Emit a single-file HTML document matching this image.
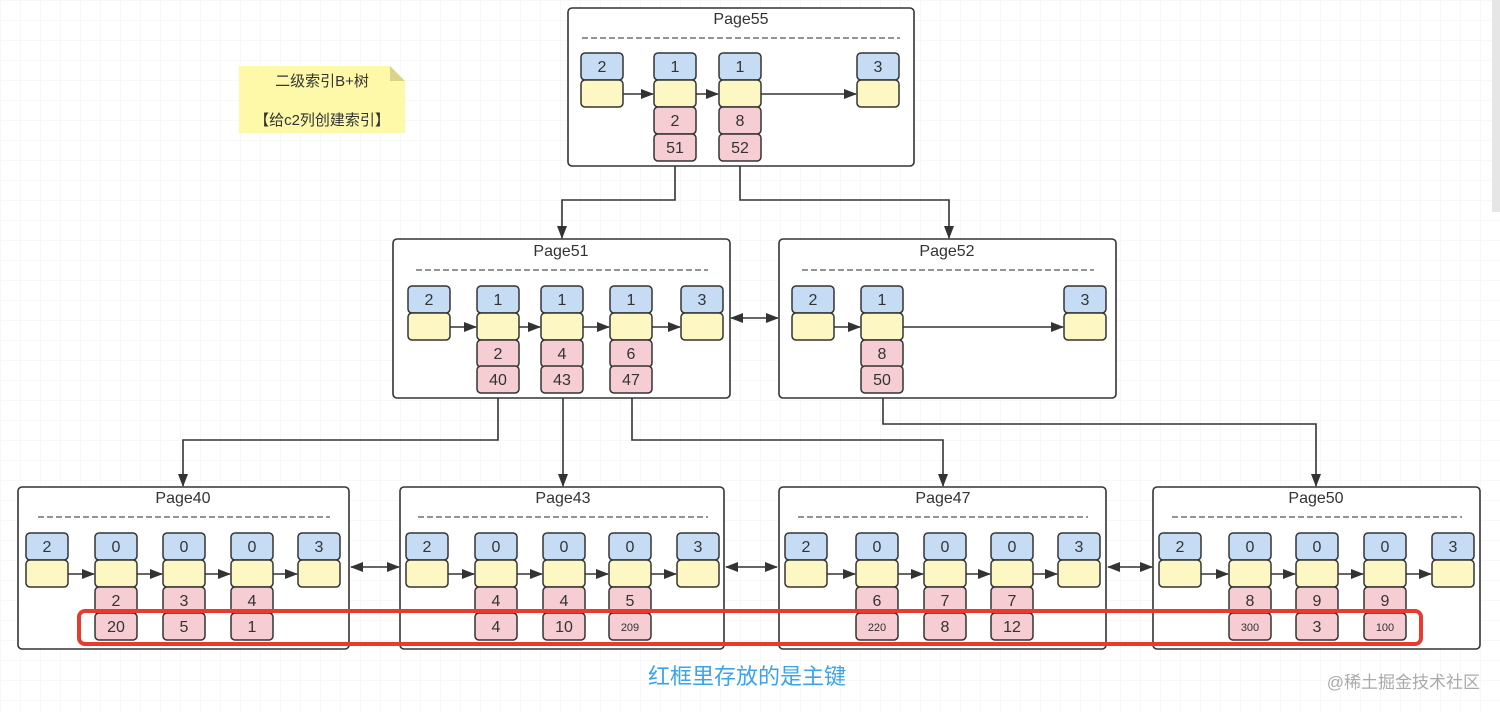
<!DOCTYPE html>
<html><head><meta charset="utf-8"><style>
html,body{margin:0;padding:0;background:#fff}
svg{display:block}
text{font-family:"Liberation Sans","Noto Sans CJK SC",sans-serif;fill:#333}
.b{fill:#c6dcf4;stroke:#333;stroke-width:1.5}
.y{fill:#fdf7c4;stroke:#333;stroke-width:1.5}
.p{fill:#f5cdd3;stroke:#333;stroke-width:1.5}
.pg{fill:#fff;stroke:#333;stroke-width:1.6}
.ln{fill:none;stroke:#333;stroke-width:1.6}
.d{stroke:#555;stroke-width:1.2;stroke-dasharray:6 3}
.t{font-size:16px;text-anchor:middle}
.s{font-size:11px;text-anchor:middle}
</style></head><body>
<svg width="1500" height="712" viewBox="0 0 1500 712" xmlns="http://www.w3.org/2000/svg">
<defs>
<pattern id="grid" width="20" height="20" patternUnits="userSpaceOnUse"><path d="M20 0H0V20" fill="none" stroke="#f0f0f0" stroke-width="1"/></pattern>
<marker id="a" markerWidth="13" markerHeight="10" refX="12" refY="5" orient="auto" markerUnits="userSpaceOnUse"><path d="M0 0L13 5L0 10z" fill="#333"/></marker>
<marker id="as" markerWidth="13" markerHeight="10" refX="1" refY="5" orient="auto" markerUnits="userSpaceOnUse"><path d="M13 0L0 5L13 10z" fill="#333"/></marker>
</defs>
<rect width="1500" height="712" fill="url(#grid)"/>
<rect x="1492" y="0" width="8" height="212" fill="#e6e6e6"/>

<!-- sticky note -->
<path d="M239 66H390L405 81V133H239Z" fill="#fdf9a8"/>
<path d="M390 66V81H405Z" fill="#d9d48a"/>
<text x="322" y="86" style="font-size:15px;text-anchor:middle">二级索引B+树</text>
<text x="322" y="125" style="font-size:15px;text-anchor:middle">【给c2列创建索引】</text>

<!-- connectors -->
<path class="ln" d="M675 160V200H562V238" marker-end="url(#a)"/>
<path class="ln" d="M740 160V200H949V238" marker-end="url(#a)"/>
<path class="ln" d="M498 393V440H183V486" marker-end="url(#a)"/>
<path class="ln" d="M563 393V486" marker-end="url(#a)"/>
<path class="ln" d="M632 393V440H943V486" marker-end="url(#a)"/>
<path class="ln" d="M883 393V424H1316V486" marker-end="url(#a)"/>
<path class="ln" d="M731 318H778" marker-end="url(#a)" marker-start="url(#as)"/>
<path class="ln" d="M351 567H399" marker-end="url(#a)" marker-start="url(#as)"/>
<path class="ln" d="M726 567H777" marker-end="url(#a)" marker-start="url(#as)"/>
<path class="ln" d="M1108 567H1152" marker-end="url(#a)" marker-start="url(#as)"/>

<!-- Page55 -->
<rect class="pg" x="568" y="8" width="346" height="158" rx="4"/>
<text class="t" x="741" y="24">Page55</text>
<line class="d" x1="582" y1="38" x2="900" y2="38"/>
<path class="ln" d="M623 94H653" marker-end="url(#a)"/>
<path class="ln" d="M696 94H718" marker-end="url(#a)"/>
<path class="ln" d="M761 94H856" marker-end="url(#a)"/>
<g transform="translate(581,53)"><rect class="b" width="42" height="27" rx="4"/><text class="t" x="21" y="19">2</text><rect class="y" y="27" width="42" height="27" rx="4"/></g>
<g transform="translate(654,53)"><rect class="b" width="42" height="27" rx="4"/><text class="t" x="21" y="19">1</text><rect class="y" y="27" width="42" height="27" rx="4"/><rect class="p" y="54" width="42" height="27" rx="4"/><text class="t" x="21" y="73">2</text><rect class="p" y="81" width="42" height="27" rx="4"/><text class="t" x="21" y="100">51</text></g>
<g transform="translate(719,53)"><rect class="b" width="42" height="27" rx="4"/><text class="t" x="21" y="19">1</text><rect class="y" y="27" width="42" height="27" rx="4"/><rect class="p" y="54" width="42" height="27" rx="4"/><text class="t" x="21" y="73">8</text><rect class="p" y="81" width="42" height="27" rx="4"/><text class="t" x="21" y="100">52</text></g>
<g transform="translate(857,53)"><rect class="b" width="42" height="27" rx="4"/><text class="t" x="21" y="19">3</text><rect class="y" y="27" width="42" height="27" rx="4"/></g>

<!-- Page51 -->
<rect class="pg" x="393" y="239" width="337" height="159" rx="4"/>
<text class="t" x="561" y="256">Page51</text>
<line class="d" x1="416" y1="270" x2="708" y2="270"/>
<path class="ln" d="M450 327H476" marker-end="url(#a)"/>
<path class="ln" d="M519 327H540" marker-end="url(#a)"/>
<path class="ln" d="M583 327H609" marker-end="url(#a)"/>
<path class="ln" d="M652 327H680" marker-end="url(#a)"/>
<g transform="translate(408,286)"><rect class="b" width="42" height="27" rx="4"/><text class="t" x="21" y="19">2</text><rect class="y" y="27" width="42" height="27" rx="4"/></g>
<g transform="translate(477,286)"><rect class="b" width="42" height="27" rx="4"/><text class="t" x="21" y="19">1</text><rect class="y" y="27" width="42" height="27" rx="4"/><rect class="p" y="54" width="42" height="27" rx="4"/><text class="t" x="21" y="73">2</text><rect class="p" y="80" width="42" height="27" rx="4"/><text class="t" x="21" y="99">40</text></g>
<g transform="translate(541,286)"><rect class="b" width="42" height="27" rx="4"/><text class="t" x="21" y="19">1</text><rect class="y" y="27" width="42" height="27" rx="4"/><rect class="p" y="54" width="42" height="27" rx="4"/><text class="t" x="21" y="73">4</text><rect class="p" y="80" width="42" height="27" rx="4"/><text class="t" x="21" y="99">43</text></g>
<g transform="translate(610,286)"><rect class="b" width="42" height="27" rx="4"/><text class="t" x="21" y="19">1</text><rect class="y" y="27" width="42" height="27" rx="4"/><rect class="p" y="54" width="42" height="27" rx="4"/><text class="t" x="21" y="73">6</text><rect class="p" y="80" width="42" height="27" rx="4"/><text class="t" x="21" y="99">47</text></g>
<g transform="translate(681,286)"><rect class="b" width="42" height="27" rx="4"/><text class="t" x="21" y="19">3</text><rect class="y" y="27" width="42" height="27" rx="4"/></g>

<!-- Page52 -->
<rect class="pg" x="779" y="239" width="337" height="159" rx="4"/>
<text class="t" x="947" y="256">Page52</text>
<line class="d" x1="802" y1="270" x2="1094" y2="270"/>
<path class="ln" d="M834 327H860" marker-end="url(#a)"/>
<path class="ln" d="M903 327H1063" marker-end="url(#a)"/>
<g transform="translate(792,286)"><rect class="b" width="42" height="27" rx="4"/><text class="t" x="21" y="19">2</text><rect class="y" y="27" width="42" height="27" rx="4"/></g>
<g transform="translate(861,286)"><rect class="b" width="42" height="27" rx="4"/><text class="t" x="21" y="19">1</text><rect class="y" y="27" width="42" height="27" rx="4"/><rect class="p" y="54" width="42" height="27" rx="4"/><text class="t" x="21" y="73">8</text><rect class="p" y="80" width="42" height="27" rx="4"/><text class="t" x="21" y="99">50</text></g>
<g transform="translate(1064,286)"><rect class="b" width="42" height="27" rx="4"/><text class="t" x="21" y="19">3</text><rect class="y" y="27" width="42" height="27" rx="4"/></g>

<!-- Page40 -->
<rect class="pg" x="18" y="487" width="331" height="162" rx="4"/>
<text class="t" x="183" y="503">Page40</text>
<line class="d" x1="38" y1="517" x2="330" y2="517"/>
<path class="ln" d="M68 574H94" marker-end="url(#a)"/>
<path class="ln" d="M137 574H162" marker-end="url(#a)"/>
<path class="ln" d="M205 574H230" marker-end="url(#a)"/>
<path class="ln" d="M273 574H297" marker-end="url(#a)"/>
<g transform="translate(26,533)"><rect class="b" width="42" height="27" rx="4"/><text class="t" x="21" y="19">2</text><rect class="y" y="27" width="42" height="27" rx="4"/></g>
<g transform="translate(95,533)"><rect class="b" width="42" height="27" rx="4"/><text class="t" x="21" y="19">0</text><rect class="y" y="27" width="42" height="27" rx="4"/><rect class="p" y="54" width="42" height="27" rx="4"/><text class="t" x="21" y="73">2</text><rect class="p" y="80" width="42" height="27" rx="4"/><text class="t" x="21" y="99">20</text></g>
<g transform="translate(163,533)"><rect class="b" width="42" height="27" rx="4"/><text class="t" x="21" y="19">0</text><rect class="y" y="27" width="42" height="27" rx="4"/><rect class="p" y="54" width="42" height="27" rx="4"/><text class="t" x="21" y="73">3</text><rect class="p" y="80" width="42" height="27" rx="4"/><text class="t" x="21" y="99">5</text></g>
<g transform="translate(231,533)"><rect class="b" width="42" height="27" rx="4"/><text class="t" x="21" y="19">0</text><rect class="y" y="27" width="42" height="27" rx="4"/><rect class="p" y="54" width="42" height="27" rx="4"/><text class="t" x="21" y="73">4</text><rect class="p" y="80" width="42" height="27" rx="4"/><text class="t" x="21" y="99">1</text></g>
<g transform="translate(298,533)"><rect class="b" width="42" height="27" rx="4"/><text class="t" x="21" y="19">3</text><rect class="y" y="27" width="42" height="27" rx="4"/></g>

<!-- Page43 -->
<rect class="pg" x="400" y="487" width="324" height="162" rx="4"/>
<text class="t" x="563" y="503">Page43</text>
<line class="d" x1="418" y1="517" x2="708" y2="517"/>
<path class="ln" d="M448 574H474" marker-end="url(#a)"/>
<path class="ln" d="M517 574H542" marker-end="url(#a)"/>
<path class="ln" d="M585 574H608" marker-end="url(#a)"/>
<path class="ln" d="M651 574H676" marker-end="url(#a)"/>
<g transform="translate(406,533)"><rect class="b" width="42" height="27" rx="4"/><text class="t" x="21" y="19">2</text><rect class="y" y="27" width="42" height="27" rx="4"/></g>
<g transform="translate(475,533)"><rect class="b" width="42" height="27" rx="4"/><text class="t" x="21" y="19">0</text><rect class="y" y="27" width="42" height="27" rx="4"/><rect class="p" y="54" width="42" height="27" rx="4"/><text class="t" x="21" y="73">4</text><rect class="p" y="80" width="42" height="27" rx="4"/><text class="t" x="21" y="99">4</text></g>
<g transform="translate(543,533)"><rect class="b" width="42" height="27" rx="4"/><text class="t" x="21" y="19">0</text><rect class="y" y="27" width="42" height="27" rx="4"/><rect class="p" y="54" width="42" height="27" rx="4"/><text class="t" x="21" y="73">4</text><rect class="p" y="80" width="42" height="27" rx="4"/><text class="t" x="21" y="99">10</text></g>
<g transform="translate(609,533)"><rect class="b" width="42" height="27" rx="4"/><text class="t" x="21" y="19">0</text><rect class="y" y="27" width="42" height="27" rx="4"/><rect class="p" y="54" width="42" height="27" rx="4"/><text class="t" x="21" y="73">5</text><rect class="p" y="80" width="42" height="27" rx="4"/><text class="s" x="21" y="98">209</text></g>
<g transform="translate(677,533)"><rect class="b" width="42" height="27" rx="4"/><text class="t" x="21" y="19">3</text><rect class="y" y="27" width="42" height="27" rx="4"/></g>

<!-- Page47 -->
<rect class="pg" x="779" y="487" width="327" height="162" rx="4"/>
<text class="t" x="943" y="503">Page47</text>
<line class="d" x1="798" y1="517" x2="1088" y2="517"/>
<path class="ln" d="M827 574H855" marker-end="url(#a)"/>
<path class="ln" d="M898 574H923" marker-end="url(#a)"/>
<path class="ln" d="M966 574H990" marker-end="url(#a)"/>
<path class="ln" d="M1033 574H1057" marker-end="url(#a)"/>
<g transform="translate(785,533)"><rect class="b" width="42" height="27" rx="4"/><text class="t" x="21" y="19">2</text><rect class="y" y="27" width="42" height="27" rx="4"/></g>
<g transform="translate(856,533)"><rect class="b" width="42" height="27" rx="4"/><text class="t" x="21" y="19">0</text><rect class="y" y="27" width="42" height="27" rx="4"/><rect class="p" y="54" width="42" height="27" rx="4"/><text class="t" x="21" y="73">6</text><rect class="p" y="80" width="42" height="27" rx="4"/><text class="s" x="21" y="98">220</text></g>
<g transform="translate(924,533)"><rect class="b" width="42" height="27" rx="4"/><text class="t" x="21" y="19">0</text><rect class="y" y="27" width="42" height="27" rx="4"/><rect class="p" y="54" width="42" height="27" rx="4"/><text class="t" x="21" y="73">7</text><rect class="p" y="80" width="42" height="27" rx="4"/><text class="t" x="21" y="99">8</text></g>
<g transform="translate(991,533)"><rect class="b" width="42" height="27" rx="4"/><text class="t" x="21" y="19">0</text><rect class="y" y="27" width="42" height="27" rx="4"/><rect class="p" y="54" width="42" height="27" rx="4"/><text class="t" x="21" y="73">7</text><rect class="p" y="80" width="42" height="27" rx="4"/><text class="t" x="21" y="99">12</text></g>
<g transform="translate(1058,533)"><rect class="b" width="42" height="27" rx="4"/><text class="t" x="21" y="19">3</text><rect class="y" y="27" width="42" height="27" rx="4"/></g>

<!-- Page50 -->
<rect class="pg" x="1153" y="487" width="327" height="162" rx="4"/>
<text class="t" x="1316" y="503">Page50</text>
<line class="d" x1="1172" y1="517" x2="1462" y2="517"/>
<path class="ln" d="M1201 574H1228" marker-end="url(#a)"/>
<path class="ln" d="M1271 574H1295" marker-end="url(#a)"/>
<path class="ln" d="M1338 574H1363" marker-end="url(#a)"/>
<path class="ln" d="M1406 574H1431" marker-end="url(#a)"/>
<g transform="translate(1159,533)"><rect class="b" width="42" height="27" rx="4"/><text class="t" x="21" y="19">2</text><rect class="y" y="27" width="42" height="27" rx="4"/></g>
<g transform="translate(1229,533)"><rect class="b" width="42" height="27" rx="4"/><text class="t" x="21" y="19">0</text><rect class="y" y="27" width="42" height="27" rx="4"/><rect class="p" y="54" width="42" height="27" rx="4"/><text class="t" x="21" y="73">8</text><rect class="p" y="80" width="42" height="27" rx="4"/><text class="s" x="21" y="98">300</text></g>
<g transform="translate(1296,533)"><rect class="b" width="42" height="27" rx="4"/><text class="t" x="21" y="19">0</text><rect class="y" y="27" width="42" height="27" rx="4"/><rect class="p" y="54" width="42" height="27" rx="4"/><text class="t" x="21" y="73">9</text><rect class="p" y="80" width="42" height="27" rx="4"/><text class="t" x="21" y="99">3</text></g>
<g transform="translate(1364,533)"><rect class="b" width="42" height="27" rx="4"/><text class="t" x="21" y="19">0</text><rect class="y" y="27" width="42" height="27" rx="4"/><rect class="p" y="54" width="42" height="27" rx="4"/><text class="t" x="21" y="73">9</text><rect class="p" y="80" width="42" height="27" rx="4"/><text class="s" x="21" y="98">100</text></g>
<g transform="translate(1432,533)"><rect class="b" width="42" height="27" rx="4"/><text class="t" x="21" y="19">3</text><rect class="y" y="27" width="42" height="27" rx="4"/></g>

<!-- red box -->
<rect x="79" y="611" width="1342" height="33" rx="6" fill="none" stroke="#e63b2e" stroke-width="4"/>

<text x="747" y="684" style="font-size:22px;text-anchor:middle;fill:#3aa3ea">红框里存放的是主键</text>
<text x="1480" y="688" style="font-size:17px;text-anchor:end;fill:#aaa">@稀土掘金技术社区</text>
</svg>
</body></html>
